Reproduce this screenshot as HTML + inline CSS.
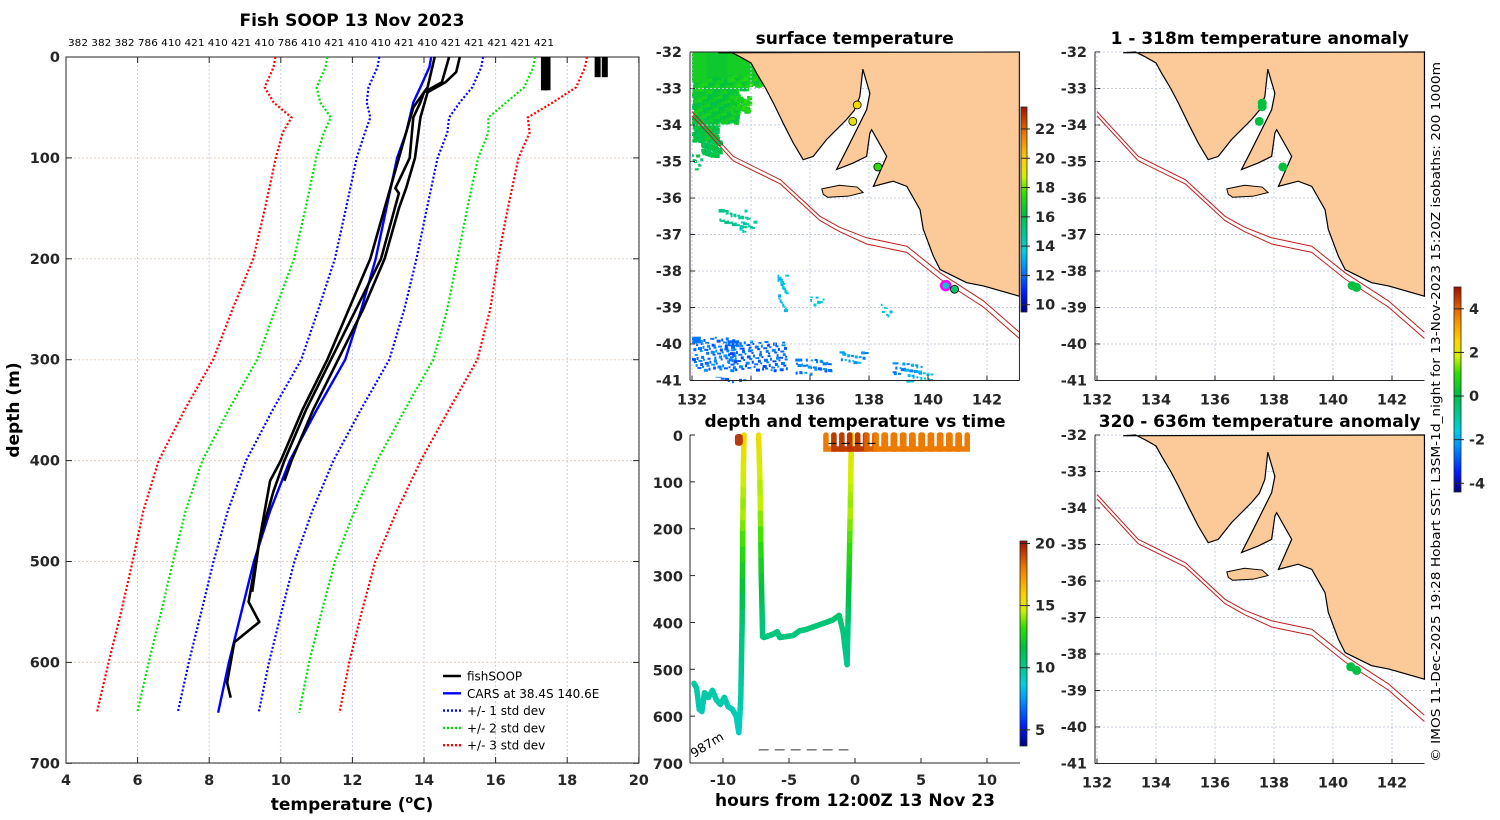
<!DOCTYPE html>
<html><head><meta charset="utf-8"><style>
html,body{margin:0;padding:0;background:#fff;}
svg{display:block;font-family:"DejaVu Sans","Liberation Sans",sans-serif;}
.tk{font-weight:bold;font-size:14.5px;fill:#262626;}
.ttl{font-weight:bold;font-size:17px;fill:#000;}
</style></head><body>
<svg id="fig" width="1500" height="820" viewBox="0 0 1500 820" xmlns="http://www.w3.org/2000/svg">
<defs>
<linearGradient id="jetSST" x1="0" y1="1" x2="0" y2="0">
<stop offset="0" stop-color="#000080"/><stop offset="0.1" stop-color="#0020ff"/><stop offset="0.22" stop-color="#0090ff"/><stop offset="0.3" stop-color="#00d0e0"/><stop offset="0.38" stop-color="#00c890"/><stop offset="0.48" stop-color="#00c040"/><stop offset="0.58" stop-color="#30e000"/><stop offset="0.66" stop-color="#d0f000"/><stop offset="0.74" stop-color="#ffd000"/><stop offset="0.86" stop-color="#f08000"/><stop offset="1" stop-color="#a01000"/>
</linearGradient>
</defs>
<g id="root"></g>
</svg>
<script>
// ---------- data ----------
const cfgDepths=[0,10,30,45,60,75,100,150,200,250,300,350,400,450,500,550,600,650];
const carsMean=[14.2,14.15,13.9,13.7,13.6,13.5,13.25,12.95,12.65,12.25,11.8,11.0,10.25,9.7,9.25,8.9,8.55,8.25];
const carsStd=[1.45,1.45,1.45,1.3,1.1,1.15,1.13,1.13,1.14,1.2,1.23,1.23,1.22,1.18,1.13,1.12,1.12,1.13];
const prof1Depth=[0,15,25,35,60,100,130,150,200,250,300,350,400,420];
const prof1Temp=[15.0,14.9,14.6,14.1,13.9,13.75,13.5,13.3,12.9,12.3,11.6,10.9,10.3,10.1];
const prof2Depth=[0,25,35,45,60,100,130,135,200,250,300,350,400,430,480,530];
const prof2Temp=[14.7,14.5,14.0,13.9,13.7,13.6,13.2,13.3,12.8,12.1,11.4,10.7,10.1,9.8,9.4,9.2];
const prof3Depth=[0,30,50,100,150,200,250,300,350,400,420,460,500,540,560,580,600,620,635];
const prof3Temp=[14.3,14.1,13.7,13.3,12.9,12.5,11.9,11.3,10.6,10.0,9.7,9.5,9.3,9.1,9.4,8.7,8.6,8.5,8.6];
const surfProfTemp=[17.35,17.45,18.85,19.05];
const surfProfDepth=[33,33,20,20];
const topLabels=["382","382","382","786","410","421","410","421","410","786","410","421","410","410","421","410","421","421","421","421","421"];
const tempTicks=[4,6,8,10,12,14,16,18,20];
const depthTicks=[0,100,200,300,400,500,600,700];
// time plot track
const trkHour=[-12.2,-12.0,-11.8,-11.6,-11.4,-11.1,-10.8,-10.5,-10.2,-9.9,-9.6,-9.3,-9.0,-8.8,-8.65,-8.55,-8.5,-8.45,-8.4];
const trkDepth=[530,540,585,590,550,560,545,565,575,560,580,585,600,635,560,400,200,60,0];
const trk2Hour=[-7.3,-7.2,-7.1,-7.0,-6.9,-6.5,-6.2,-5.9,-5.7,-5.2,-4.7,-4.2,-3.7,-3.2,-2.7,-2.2,-1.7,-1.2,-0.9,-0.6,-0.45,-0.35,-0.3,-0.25];
const trk2Depth=[0,100,300,430,432,428,425,420,432,430,428,418,415,410,405,400,395,385,420,490,300,150,50,0];
const loopHour=[-2.2,-1.6,-1.0,-0.4,0.2,0.9,1.6,2.3,3.0,3.7,4.4,5.1,5.8,6.5,7.2,7.9];
const loopTemp=[18,19.3,19.3,19.4,19.3,18.5,18,18,18,18,18,18,18,18,18,18];
const timeTicks=[-10,-5,0,5,10];
const tDepthTicks=[0,100,200,300,400,500,600,700];
// maps
const latTicks=[-32,-33,-34,-35,-36,-37,-38,-39,-40,-41];
const lonTicks=[132,134,136,138,140,142];
const coastLon=[132.89,133.3,133.63,134.0,134.19,134.5,134.76,135.09,135.43,135.77,136.11,136.56,137.24,137.5,137.69,137.79,138.03,137.92,137.58,137.24,136.9,137.47,137.92,138.03,138.09,138.6,138.15,138.82,139.28,139.73,139.84,140.18,140.41,141.31,141.88,143.1];
const coastLat=[-32.02,-32.0,-32.13,-32.3,-32.58,-33.0,-33.4,-33.95,-34.49,-34.95,-34.86,-34.4,-33.85,-33.6,-33.22,-32.47,-33.13,-33.58,-34.13,-34.68,-35.22,-35.04,-34.86,-34.22,-34.13,-34.86,-35.68,-35.54,-35.68,-36.32,-36.86,-37.59,-37.96,-38.32,-38.41,-38.69];
const kiLon=[136.4,137.0,137.6,137.8,137.3,136.6,136.45];
const kiLat=[-35.75,-35.65,-35.7,-35.85,-35.95,-35.98,-35.9];
const isoLon=[132,133.4,135.0,136.34,137.0,137.92,139.28,140.41,141.88,143.1];
const isoLat=[-33.63,-34.86,-35.5,-36.5,-36.8,-37.09,-37.32,-38.05,-38.82,-39.68];
const sstPatchLon=[132.0,132.5,133.2,132.0,132.0,132.3,133.3,132.0,132.9,133.6,134.9,136.0,138.4,132.0,133.2,135.5,137.0,138.8,132.8,139.2];
const sstPatchLat=[-32.0,-32.0,-32.0,-33.1,-33.8,-34.4,-33.2,-34.8,-36.3,-36.5,-38.1,-38.7,-38.9,-39.8,-39.9,-40.4,-40.2,-40.5,-40.9,-40.7];
const sstPatchW=[1.5,1.3,1.2,1.5,0.8,0.6,0.6,0.3,0.9,0.5,0.3,0.5,0.3,1.5,2.0,1.2,0.9,1.0,1.0,0.9];
const sstPatchH=[1.2,1.0,0.9,0.8,0.6,0.4,0.4,0.4,0.5,0.4,1.0,0.2,0.3,0.9,0.8,0.4,0.3,0.3,0.1,0.3];
const sstPatchT=[16.8,16.6,16.8,16.5,16.2,16.0,17.0,15.8,14.8,14.6,13.5,13.8,13.6,12.2,12.0,12.3,12.8,12.6,12.0,13.3];
const sstDotLon=[137.6,137.45,138.3,140.6,140.9];
const sstDotLat=[-33.45,-33.9,-35.15,-38.4,-38.5];
const sstDotT=[19.5,19.2,17.5,14,15.5];
const anomTopLon=[137.6,137.6,137.5,138.3,140.65,140.8];
const anomTopLat=[-33.4,-33.5,-33.9,-35.15,-38.4,-38.45];
const anomBotLon=[140.6,140.8];
const anomBotLat=[-38.35,-38.45];

// ---------- helpers ----------
const NS="http://www.w3.org/2000/svg";
const root=document.getElementById('root');
function el(tag,attrs,parent,text){const e=document.createElementNS(NS,tag);for(const k in attrs)e.setAttribute(k,attrs[k]);if(text!==undefined)e.textContent=text;(parent||root).appendChild(e);return e;}
const stops=[[0,[0,0,128]],[0.1,[0,32,255]],[0.22,[0,144,255]],[0.3,[0,208,224]],[0.38,[0,200,144]],[0.48,[0,192,64]],[0.58,[48,224,0]],[0.66,[208,240,0]],[0.74,[255,208,0]],[0.86,[240,128,0]],[1,[160,16,0]]];
function cmap(v,lo,hi){let t=Math.max(0,Math.min(1,(v-lo)/(hi-lo)));for(let i=1;i<stops.length;i++){if(t<=stops[i][0]){const a=stops[i-1],b=stops[i];const f=(t-a[0])/(b[0]-a[0]);const c=a[1].map((x,j)=>Math.round(x+(b[1][j]-x)*f));return `rgb(${c[0]},${c[1]},${c[2]})`;}}return 'rgb(160,16,0)';}
const GRID='#c4cce6';

// ---------- Panel 1: profiles ----------
const px=t=>66+(t-4)*35.8, py=d=>57+d*1.009;
let g1=el('g',{});


tempTicks.forEach(t=>{el('line',{x1:px(t),x2:px(t),y1:57,y2:763,stroke:GRID,'stroke-dasharray':'2,2'},g1);
let tx=el('text',{x:px(t),y:785,'text-anchor':'middle',class:'tk'},g1,String(t));

el('line',{x1:px(t),x2:px(t),y1:763,y2:757,stroke:'#262626'},g1);el('line',{x1:px(t),x2:px(t),y1:57,y2:63,stroke:'#262626'},g1);});
depthTicks.forEach(d=>{el('line',{x1:66,x2:639,y1:py(d),y2:py(d),stroke:'#e6d2c0','stroke-dasharray':'2,2'},g1);
let tx=el('text',{x:60,y:py(d)+5,'text-anchor':'end',class:'tk'},g1,String(d));

el('line',{x1:66,x2:72,y1:py(d),y2:py(d),stroke:'#262626'},g1);el('line',{x1:633,x2:639,y1:py(d),y2:py(d),stroke:'#262626'},g1);});
el('rect',{x:66,y:57,width:573,height:706,fill:'none',stroke:'#262626'},g1);
function poly(xs,ys,attrs,parent,name){const pts=xs.map((x,i)=>x.toFixed(1)+','+ys[i].toFixed(1)).join(' ');const p=el('polyline',Object.assign({points:pts,fill:'none'},attrs),parent);return p;}
const sdCol={1:'#0000ff',2:'#00e000',3:'#ff0000'};
[1,2,3].forEach(k=>{[-1,1].forEach(s=>{poly(cfgDepths.map((d,i)=>px(carsMean[i]+s*k*carsStd[i])),cfgDepths.map(d=>py(d)),{stroke:sdCol[k],'stroke-width':2.2,'stroke-dasharray':'2,2'},g1,'std-dev-'+k+(s<0?'-minus':'-plus'));});});
poly(carsMean.map(px),cfgDepths.map(py),{stroke:'#0000ff','stroke-width':2.4},g1,'cars-mean-line');
[[prof1Temp,prof1Depth],[prof2Temp,prof2Depth],[prof3Temp,prof3Depth]].forEach((p,i)=>poly(p[0].map(px),p[1].map(py),{stroke:'#000','stroke-width':2.6,'stroke-linejoin':'round'},g1,'fishsoop-profile-'+(i+1)));
surfProfTemp.forEach((t,i)=>{let r=el('rect',{x:px(t)-3,y:py(0),width:6,height:py(surfProfDepth[i])-py(0),fill:'#000'},g1);});
topLabels.forEach((s,i)=>{let t=el('text',{x:68+i*23.3,y:46,'font-size':'10px',fill:'#000',textLength:20,lengthAdjust:'spacingAndGlyphs'},g1,s);});
let tt=el('text',{x:352,y:26,'text-anchor':'middle',class:'ttl'},g1,'Fish SOOP 13 Nov 2023');
let yt=el('text',{transform:'translate(19,410) rotate(-90)','text-anchor':'middle',class:'ttl','font-size':'16px',fill:'#262626'},g1,'depth (m)');
let xt=el('text',{x:352,y:810,'text-anchor':'middle',class:'ttl',fill:'#262626'},g1);
xt.innerHTML='temperature (<tspan font-size="11" dy="-7">o</tspan><tspan dy="7">C)</tspan>';
const legItems=[['fishSOOP','#000',''],['CARS at 38.4S 140.6E','#0000ff',''],['+/- 1 std dev','#0000ff','2,2'],['+/- 2 std dev','#00e000','2,2'],['+/- 3 std dev','#ff0000','2,2']];
let lg=el('g',{},g1);
legItems.forEach((it,i)=>{const y=676+i*17.3;el('line',{x1:443,x2:461,y1:y,y2:y,stroke:it[1],'stroke-width':2.4,'stroke-dasharray':it[2]||'none'},lg);let t=el('text',{x:467,y:y+4.5,'font-size':'12px',fill:'#000'},lg,it[0]);});

// ---------- Maps ----------
function drawMap(x0,y0,title,name,opts){
  const mx=lon=>x0+(lon-132)*29.5, my=lat=>y0+(-32-lat)*36.5;
  const g=el('g',{});
  const L=x0-2,R=x0+(143.1-132)*29.5,T=y0,B=my(-41);
  if(opts.sst){sstPatchLon.forEach((lo,i)=>{const dense=i<7?3:1;const cnt=Math.max(4,Math.round(sstPatchW[i]*sstPatchH[i]*60*dense));for(let k=0;k<cnt;k++){const fx=((k*37+i*13)%97)/97,fy=((k*61+i*29)%89)/89;const r=el('rect',{x:mx(lo+fx*sstPatchW[i]),y:my(sstPatchLat[i]-fy*sstPatchH[i]),width:i<7?5:2+((k+i)%3),height:i<7?4:2+((k*7+i)%2),fill:cmap(sstPatchT[i]+((k%5)-2)*0.25,9.5,23.5)},g);}
    const cell=el('rect',{x:mx(sstPatchLon[i]),y:my(sstPatchLat[i]),width:sstPatchW[i]*29.5*(i<3?0.8:0.2),height:sstPatchH[i]*36.5*(i<3?0.7:0.2),fill:cmap(sstPatchT[i],9.5,23.5)},g);
    });}
  latTicks.forEach(la=>{el('line',{x1:L,x2:R,y1:my(la),y2:my(la),stroke:GRID,'stroke-dasharray':'2,2'},g);let t=el('text',{x:L-8,y:my(la)+5,'text-anchor':'end',class:'tk'},g,String(la));el('line',{x1:L,x2:L+5,y1:my(la),y2:my(la),stroke:'#262626'},g);});
  lonTicks.forEach(lo=>{el('line',{x1:mx(lo),x2:mx(lo),y1:T,y2:B,stroke:GRID,'stroke-dasharray':'2,2'},g);let t=el('text',{x:mx(lo),y:B+24,'text-anchor':'middle',class:'tk','font-size':'15.5px'},g,String(lo));el('line',{x1:mx(lo),x2:mx(lo),y1:B,y2:B-5,stroke:'#262626'},g);});
  let pts=coastLon.map((lo,i)=>mx(lo)+','+my(coastLat[i])).join(' ')+' '+R+','+T;
  let land=el('polygon',{points:pts,fill:'#fcca98',stroke:'#000','stroke-width':1.2},g);
  let ki=el('polygon',{points:kiLon.map((lo,i)=>mx(lo)+','+my(kiLat[i])).join(' '),fill:'#fcca98',stroke:'#000','stroke-width':1},g);
  poly(isoLon.map(mx),isoLat.map(my),{stroke:'#c02020','stroke-width':1},g,'isobath-200m');
  poly(isoLon.map(mx),isoLat.map((la,i)=>my(la-0.12-(i>4?0.05:0))),{stroke:'#c02020','stroke-width':1},g,'isobath-1000m');
  if(opts.dots) opts.dots(g,mx,my);
  el('line',{x1:L,x2:L,y1:T,y2:B,stroke:'#262626'},g);el('line',{x1:L,x2:R,y1:B,y2:B,stroke:'#262626'},g);
  if(opts.box){el('line',{x1:R,x2:R,y1:T,y2:B,stroke:'#262626'},g);el('line',{x1:L,x2:R,y1:T,y2:T,stroke:'#262626'},g);}
  let t=el('text',{x:(L+R)/2,y:y0-8,'text-anchor':'middle',class:'ttl'},g,title);
}
drawMap(692,52,'surface temperature','sst-map',{sst:true,box:true,dots:(g,mx,my)=>{sstDotLon.forEach((lo,i)=>{if(i==3){let m=el('circle',{cx:mx(lo),cy:my(sstDotLat[i]),r:4.5,fill:'#00c8c8',stroke:'#ff00ff','stroke-width':2.5},g);}else{let c=el('circle',{cx:mx(lo),cy:my(sstDotLat[i]),r:4,fill:cmap(sstDotT[i],9.5,23.5),stroke:'#000','stroke-width':0.8},g);}});}});
drawMap(1097,52,'1 - 318m temperature anomaly','anomaly-map-shallow',{dots:(g,mx,my)=>{anomTopLon.forEach((lo,i)=>{let c=el('circle',{cx:mx(lo),cy:my(anomTopLat[i]),r:4.5,fill:'#00c040'},g);});}});
drawMap(1097,435,'320 - 636m temperature anomaly','anomaly-map-deep',{dots:(g,mx,my)=>{anomBotLon.forEach((lo,i)=>{let c=el('circle',{cx:mx(lo),cy:my(anomBotLat[i]),r:4.5,fill:'#00c040'},g);});}});

// colorbars
function colorbar(x,y,w,h,ticks,lo,hi,name){const g=el('g',{});
el('rect',{x:x,y:y,width:w,height:h,fill:'url(#jetSST)',stroke:'#262626','stroke-width':0.8},g);
ticks.forEach(v=>{const yy=y+h-(v-lo)/(hi-lo)*h;el('line',{x1:x,x2:x+w+3,y1:yy,y2:yy,stroke:'#262626'},g);let t=el('text',{x:x+w+8,y:yy+5,class:'tk','font-size':'13px'},g,String(v));});}
colorbar(1021,107,6,205,[10,12,14,16,18,20,22],9.5,23.5,'sst-colorbar');
colorbar(1020,541,7,205,[5,10,15,20],3.7,20.2,'time-colorbar');
colorbar(1454,287,7,205,[-4,-2,0,2,4],-4.4,5.0,'anomaly-colorbar');

// ---------- time panel ----------
const tx=h=>855+h*13.2, ty=d=>435+d*0.4686;
const g3=el('g',{});
const tempOfDepth=d=>d<150?15.5-d*0.01:(d<400?14.5-(d-150)*0.016:10.5-(d-400)*0.006);
function track(hs,ds){for(let i=1;i<hs.length;i++){const n=6;for(let k=0;k<n;k++){const f0=k/n,f1=(k+1)/n;const h0=hs[i-1]+(hs[i]-hs[i-1])*f0,h1=hs[i-1]+(hs[i]-hs[i-1])*f1,d0=ds[i-1]+(ds[i]-ds[i-1])*f0,d1=ds[i-1]+(ds[i]-ds[i-1])*f1;
let s=el('line',{x1:tx(h0),y1:ty(d0),x2:tx(h1),y2:ty(d1),stroke:cmap(tempOfDepth((d0+d1)/2),3.7,20.2),'stroke-width':5.5,'stroke-linecap':'round'},g3);}}}
track(trkHour,trkDepth);track(trk2Hour,trk2Depth);
let sb=el('rect',{x:tx(-9.1),y:ty(0)-1,width:tx(-8.5)-tx(-9.1),height:ty(25)-ty(0),fill:'#b83a10',rx:3},g3);
loopHour.forEach((h,i)=>{let p=el('path',{d:`M${tx(h)},${ty(0)} L${tx(h)},${ty(30)} L${tx(h+0.6)},${ty(30)} L${tx(h+0.6)},${ty(0)}`,fill:'none',stroke:cmap(loopTemp[i],3.7,20.2),'stroke-width':5.5,'stroke-linecap':'round'},g3);});
el('line',{x1:tx(-2),x2:tx(1.7),y1:ty(18),y2:ty(18),stroke:'#000','stroke-dasharray':'8,5','stroke-width':1},g3);
el('line',{x1:tx(-7.3),x2:tx(-0.5),y1:ty(672),y2:ty(672),stroke:'#333','stroke-dasharray':'10,6','stroke-width':1},g3);
el('line',{x1:690,x2:690,y1:435,y2:763,stroke:'#262626'},g3);el('line',{x1:690,x2:1020,y1:763,y2:763,stroke:'#262626'},g3);
tDepthTicks.forEach(d=>{el('line',{x1:690,x2:695,y1:ty(d),y2:ty(d),stroke:'#262626'},g3);let t=el('text',{x:683,y:ty(d)+6,'text-anchor':'end',class:'tk','font-size':'15.5px'},g3,String(d));});
timeTicks.forEach(h=>{el('line',{x1:tx(h),x2:tx(h),y1:763,y2:758,stroke:'#262626'},g3);let t=el('text',{x:tx(h),y:785,'text-anchor':'middle',class:'tk','font-size':'15.5px'},g3,String(h));});
let t3=el('text',{x:855,y:427,'text-anchor':'middle',class:'ttl'},g3,'depth and temperature vs time');
let x3=el('text',{x:855,y:806,'text-anchor':'middle',class:'ttl',fill:'#262626'},g3,'hours from 12:00Z 13 Nov 23');
let bd=el('text',{transform:'translate(694,758) rotate(-32)','font-size':'12.5px',fill:'#000'},g3,'987m');
let cr=el('text',{transform:'translate(1440,762) rotate(-90)','font-size':'12.5px',fill:'#000',textLength:700,lengthAdjust:'spacingAndGlyphs'},root,'© IMOS 11-Dec-2025 19:28 Hobart SST: L3SM-1d_night for 13-Nov-2023 15:20Z isobaths: 200  1000m');

</script>
</body></html>
